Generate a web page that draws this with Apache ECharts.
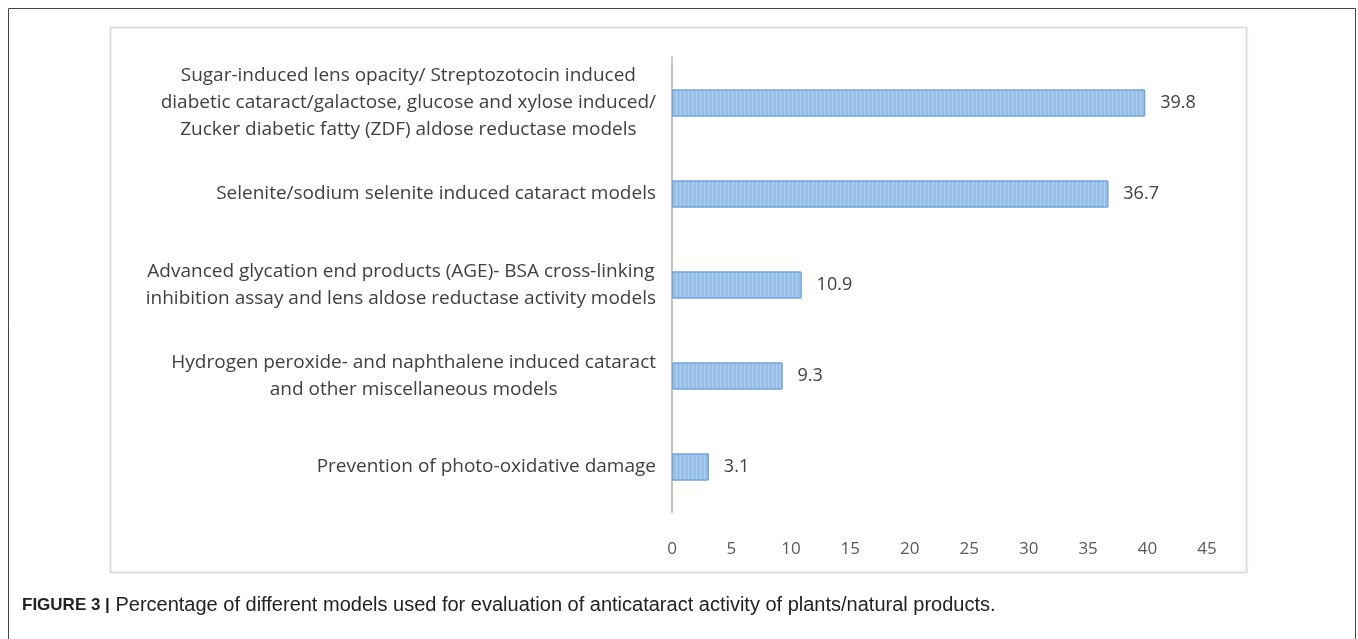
<!DOCTYPE html>
<html>
<head>
<meta charset="utf-8">
<script src="https://cdn.jsdelivr.net/npm/echarts@6/dist/echarts.min.js"></script>
<style>
html,body{margin:0;padding:0;background:#fff;}
#chart{width:1358px;height:639px;}
</style>
</head>
<body>
<div id="chart"></div>
<script>
var categories = [
  "Sugar-induced lens opacity/ Streptozotocin induced\ndiabetic cataract/galactose, glucose and xylose induced/\nZucker diabetic fatty (ZDF) aldose reductase models",
  "Selenite/sodium selenite induced cataract models",
  "Advanced glycation end products (AGE)- BSA cross-linking\ninhibition assay and lens aldose reductase activity models",
  "Hydrogen peroxide- and naphthalene induced cataract\nand other miscellaneous models",
  "Prevention of photo-oxidative damage"
];
var values = [39.8, 36.7, 10.9, 9.3, 3.1];
var xTicks = [0, 5, 10, 15, 20, 25, 30, 35, 40, 45];
var captionBold = "FIGURE 3 |";
var captionText = " Percentage of different models used for evaluation of anticataract activity of plants/natural products.";

var chart = echarts.init(document.getElementById('chart'), null, {renderer: 'canvas'});
var labelFont = '"Open Sans", Lato, sans-serif';

chart.setOption({
  animation: false,
  backgroundColor: '#ffffff',
  title: {
    text: '{b|' + captionBold + '}{r|' + captionText + '}',
    left: 17,
    top: 590,
    textStyle: {
      fontWeight: 'normal',
      rich: {
        b: {fontFamily: '"Liberation Sans", Arial, sans-serif', fontWeight: 'bold', fontSize: 17, color: '#222'},
        r: {fontFamily: '"Liberation Sans", Arial, sans-serif', fontWeight: 'normal', fontSize: 20, color: '#222'}
      }
    }
  },
  graphic: [
    {type: 'rect', z: -10, silent: true, shape: {x: 8.5, y: 8.5, width: 1347, height: 700},
     style: {fill: 'transparent', stroke: '#444444', lineWidth: 1}},
    {type: 'rect', z: -10, silent: true, shape: {x: 110.5, y: 27.5, width: 1136, height: 545},
     style: {fill: '#ffffff', stroke: '#D9D9D9', lineWidth: 1.5, shadowBlur: 2, shadowColor: 'rgba(0,0,0,0.08)'}}
  ],
  grid: {left: 672, right: 151, top: 57.5, bottom: 126.5, containLabel: false},
  xAxis: {
    type: 'value',
    min: 0, max: 45, interval: 5,
    axisLine: {show: false},
    axisTick: {show: false},
    splitLine: {show: false},
    axisLabel: {
      margin: 28,
      color: '#595959',
      fontSize: 17,
      fontFamily: labelFont,
      formatter: function (v) { return xTicks.indexOf(v) >= 0 ? String(v) : ''; }
    }
  },
  yAxis: {
    type: 'category',
    inverse: true,
    data: categories,
    axisLine: {show: true, lineStyle: {color: '#C4C4C4', width: 2}},
    axisTick: {show: false},
    splitLine: {show: false},
    axisLabel: {
      margin: 16,
      align: 'right',
      formatter: function (v) {
        return v.split('\n').map(function (l) { return '{c|' + l + '}'; }).join('\n');
      },
      rich: {
        c: {align: 'center', fontSize: 19, lineHeight: 27, color: '#404040', fontFamily: labelFont}
      }
    }
  },
  series: [{
    type: 'bar',
    data: values,
    barWidth: 27,
    itemStyle: {
      color: '#97BFE8',
      borderColor: '#6FA3DB',
      borderWidth: 1,
      decal: {
        symbol: 'rect',
        symbolSize: 1,
        color: 'rgba(255,255,255,0.25)',
        dashArrayX: [1, 3],
        dashArrayY: [40, 0],
        rotation: 0
      }
    },
    label: {
      show: true,
      position: 'right',
      distance: 15,
      color: '#404040',
      fontSize: 18,
      fontFamily: labelFont,
      formatter: function (p) { return p.value.toFixed(1); }
    }
  }]
});
</script>
</body>
</html>
